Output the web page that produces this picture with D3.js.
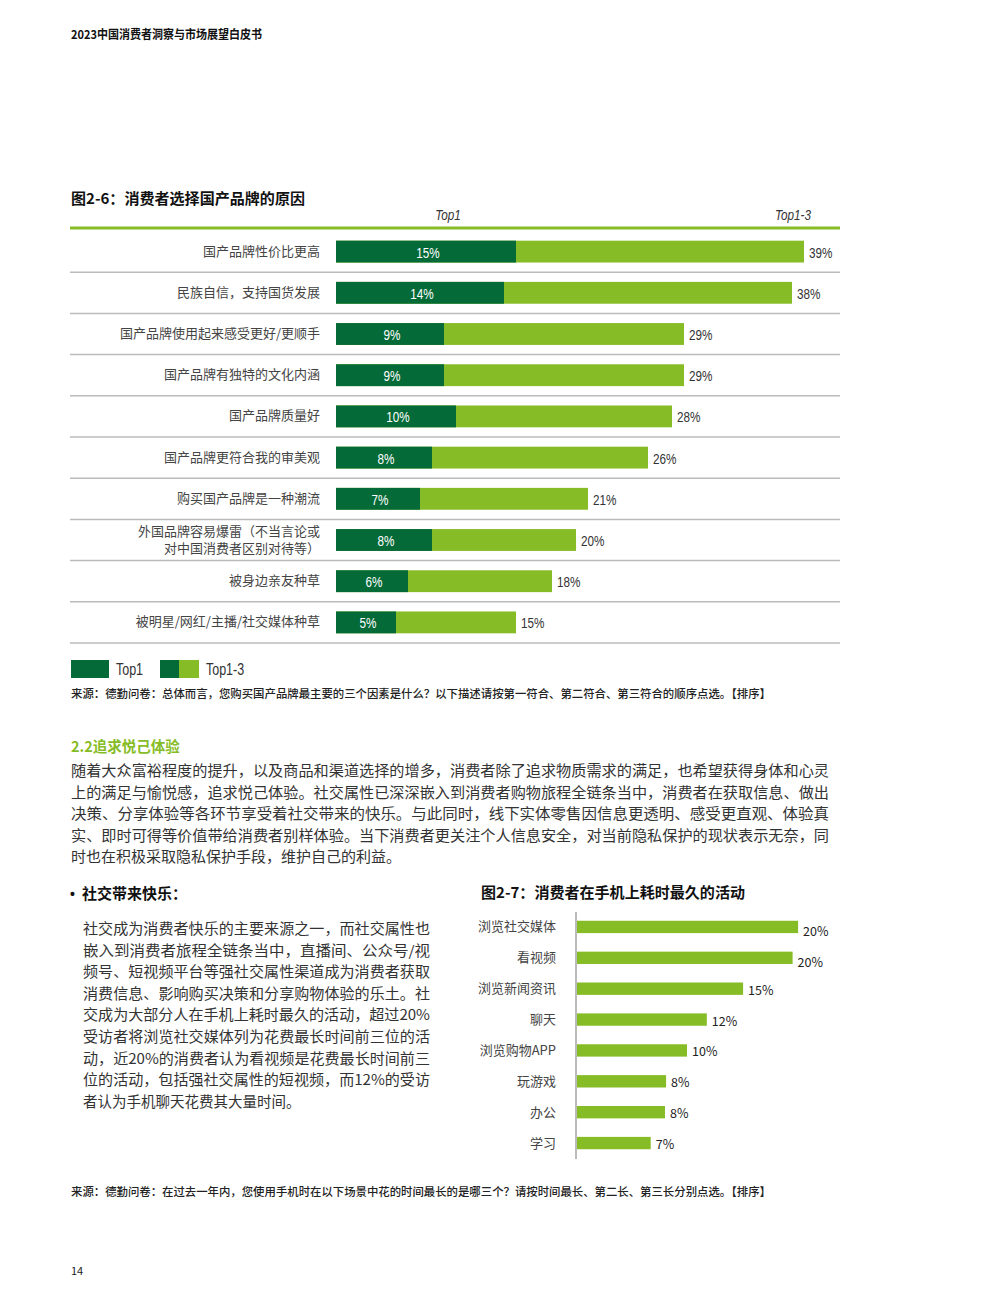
<!DOCTYPE html>
<html>
<head>
<meta charset="utf-8">
<script src="https://cdn.jsdelivr.net/npm/d3@7"></script>
<style>
  body { margin: 0; background: #fff; }
  text { font-family: "Noto Sans CJK SC", "Noto Sans", sans-serif; }
  .num { font-family: "Liberation Sans", Arial, sans-serif; }
</style>
</head>
<body>
<div id="page"></div>
<script>
// 图2-6 data
var reasons = ["国产品牌性价比更高", "民族自信，支持国货发展", "国产品牌使用起来感受更好/更顺手",
  "国产品牌有独特的文化内涵", "国产品牌质量好", "国产品牌更符合我的审美观", "购买国产品牌是一种潮流",
  "外国品牌容易爆雷（不当言论或\n对中国消费者区别对待等）", "被身边亲友种草", "被明星/网红/主播/社交媒体种草"];
var top1 = [15, 14, 9, 9, 10, 8, 7, 8, 6, 5];
var top3 = [39, 38, 29, 29, 28, 26, 21, 20, 18, 15];

// 图2-7 data
var activities = ["浏览社交媒体", "看视频", "浏览新闻资讯", "聊天", "浏览购物APP", "玩游戏", "办公", "学习"];
var activityShare = [20.1, 19.6, 15.1, 11.8, 10.0, 8.1, 8.0, 6.7];

var paragraph = [
  "随着大众富裕程度的提升，以及商品和渠道选择的增多，消费者除了追求物质需求的满足，也希望获得身体和心灵",
  "上的满足与愉悦感，追求悦己体验。社交属性已深深嵌入到消费者购物旅程全链条当中，消费者在获取信息、做出",
  "决策、分享体验等各环节享受着社交带来的快乐。与此同时，线下实体零售因信息更透明、感受更直观、体验真",
  "实、即时可得等价值带给消费者别样体验。当下消费者更关注个人信息安全，对当前隐私保护的现状表示无奈，同",
  "时也在积极采取隐私保护手段，维护自己的利益。"];
var sideText = [
  "社交成为消费者快乐的主要来源之一，而社交属性也",
  "嵌入到消费者旅程全链条当中，直播间、公众号/视",
  "频号、短视频平台等强社交属性渠道成为消费者获取",
  "消费信息、影响购买决策和分享购物体验的乐土。社",
  "交成为大部分人在手机上耗时最久的活动，超过20%",
  "受访者将浏览社交媒体列为花费最长时间前三位的活",
  "动，近20%的消费者认为看视频是花费最长时间前三",
  "位的活动，包括强社交属性的短视频，而12%的受访",
  "者认为手机聊天花费其大量时间。"];

var dark = "#046A38", light = "#86BC25", textCol = "#333";

// squeeze latin labels to look like the condensed face in the original
function narrow(sel, k) {
  sel.each(function() {
    var w = this.getComputedTextLength();
    this.setAttribute("textLength", w * (k || 0.78));
    this.setAttribute("lengthAdjust", "spacingAndGlyphs");
  });
}

var svg = d3.select("#page").append("svg")
  .attr("width", 987).attr("height", 1316);
svg.append("rect").attr("width", 987).attr("height", 1316).attr("fill", "#fff");

// page header
svg.append("text").attr("x", 71).attr("y", 39)
  .attr("font-size", 12).attr("font-weight", "bold").attr("fill", "#111")
  .attr("textLength", 191).attr("lengthAdjust", "spacingAndGlyphs")
  .text("2023中国消费者洞察与市场展望白皮书");

// ---------- chart 1 ----------
svg.append("text").attr("x", 71).attr("y", 204)
  .attr("font-size", 15).attr("font-weight", "bold").attr("fill", "#111")
  .attr("textLength", 234).attr("lengthAdjust", "spacingAndGlyphs")
  .text("图2-6：消费者选择国产品牌的原因");

svg.append("text").attr("class", "num").attr("x", 448).attr("y", 220)
  .attr("text-anchor", "middle").attr("font-style", "italic").attr("font-size", 15)
  .attr("fill", textCol).text("Top1").call(narrow);
svg.append("text").attr("class", "num").attr("x", 793).attr("y", 220)
  .attr("text-anchor", "middle").attr("font-style", "italic").attr("font-size", 15)
  .attr("fill", textCol).text("Top1-3").call(narrow);

var rows1 = reasons.map(function(r, i) { return {name: r, a: top1[i], b: top3[i]}; });

var x1 = d3.scaleLinear().domain([0, 40]).range([336, 816]);
var y1 = d3.scaleBand().domain(reasons).range([231, 643])
  .paddingInner(0.47).paddingOuter(0.235);
var gap = y1.step() * 0.47 / 2;

svg.append("line").attr("x1", 70).attr("x2", 840).attr("y1", 228).attr("y2", 228)
  .attr("stroke", light).attr("stroke-width", 3);

var g1 = svg.append("g");
g1.selectAll("line.sep").data(rows1).enter().append("line")
  .attr("class", "sep")
  .attr("x1", 70).attr("x2", 840)
  .attr("y1", function(d) { return y1(d.name) + y1.bandwidth() + gap; })
  .attr("y2", function(d) { return y1(d.name) + y1.bandwidth() + gap; })
  .attr("stroke", "#bbb").attr("stroke-width", 1.5);

g1.selectAll("rect.b").data(rows1).enter().append("rect")
  .attr("class", "b")
  .attr("x", x1(0)).attr("y", function(d) { return y1(d.name); })
  .attr("width", function(d) { return x1(d.b) - x1(0); })
  .attr("height", y1.bandwidth()).attr("fill", light);

g1.selectAll("rect.a").data(rows1).enter().append("rect")
  .attr("class", "a")
  .attr("x", x1(0)).attr("y", function(d) { return y1(d.name); })
  .attr("width", function(d) { return x1(d.a) - x1(0); })
  .attr("height", y1.bandwidth()).attr("fill", dark);

g1.selectAll("text.in").data(rows1).enter().append("text")
  .attr("class", "num")
  .attr("x", function(d) { return (x1(0) + x1(d.a)) / 2 + 2; })
  .attr("y", function(d) { return y1(d.name) + y1.bandwidth() / 2 + 6; })
  .attr("text-anchor", "middle").attr("font-size", 15).attr("fill", "#fff")
  .text(function(d) { return d.a + "%"; })
  .call(narrow);

g1.selectAll("text.out").data(rows1).enter().append("text")
  .attr("class", "num")
  .attr("x", function(d) { return x1(d.b) + 5; })
  .attr("y", function(d) { return y1(d.name) + y1.bandwidth() / 2 + 6; })
  .attr("font-size", 15).attr("fill", textCol)
  .text(function(d) { return d.b + "%"; })
  .call(narrow);

g1.selectAll("text.cat").data(rows1).enter().append("text")
  .attr("x", 320)
  .attr("y", function(d) {
    var n = d.name.split("\n").length;
    return y1(d.name) + y1.bandwidth() / 2 + 4 - (n - 1) * 8.5;
  })
  .attr("text-anchor", "end").attr("font-size", 13).attr("fill", "#444")
  .each(function(d) {
    var t = d3.select(this);
    d.name.split("\n").forEach(function(s, k) {
      t.append("tspan").attr("x", 320).attr("dy", k ? 17 : 0).text(s);
    });
  });

// legend
svg.append("rect").attr("x", 71).attr("y", 660).attr("width", 38).attr("height", 18).attr("fill", dark);
svg.append("text").attr("class", "num").attr("x", 116).attr("y", 675)
  .attr("font-size", 16).attr("fill", textCol).text("Top1").call(narrow);
svg.append("rect").attr("x", 160).attr("y", 660).attr("width", 19).attr("height", 18).attr("fill", dark);
svg.append("rect").attr("x", 179).attr("y", 660).attr("width", 20).attr("height", 18).attr("fill", light);
svg.append("text").attr("class", "num").attr("x", 206).attr("y", 675)
  .attr("font-size", 16).attr("fill", textCol).text("Top1-3").call(narrow);

svg.append("text").attr("x", 71).attr("y", 698)
  .attr("font-size", 11.5).attr("font-weight", 500).attr("fill", "#222")
  .attr("textLength", 700).attr("lengthAdjust", "spacingAndGlyphs")
  .text("来源：德勤问卷：总体而言，您购买国产品牌最主要的三个因素是什么？以下描述请按第一符合、第二符合、第三符合的顺序点选。【排序】");

// ---------- section text ----------
svg.append("text").attr("x", 71).attr("y", 752)
  .attr("font-size", 14.5).attr("font-weight", "bold").attr("fill", light)
  .text("2.2追求悦己体验");

svg.append("g").selectAll("text").data(paragraph).enter().append("text")
  .attr("x", 71).attr("y", function(d, i) { return 776 + i * 21.6; })
  .attr("font-size", 15).attr("fill", textCol)
  .attr("textLength", function(d, i) { return i < paragraph.length - 1 ? 758 : null; })
  .attr("lengthAdjust", "spacingAndGlyphs")
  .text(function(d) { return d; });

svg.append("text").attr("class", "num").attr("x", 70).attr("y", 899)
  .attr("font-size", 14).attr("font-weight", "bold").attr("fill", "#111")
  .text("•");
svg.append("text").attr("x", 82).attr("y", 899)
  .attr("font-size", 15).attr("font-weight", "bold").attr("fill", "#111")
  .text("社交带来快乐：");

svg.append("g").selectAll("text").data(sideText).enter().append("text")
  .attr("x", 83).attr("y", function(d, i) { return 934 + i * 21.6; })
  .attr("font-size", 14.5).attr("fill", textCol)
  .attr("textLength", function(d, i) { return i < sideText.length - 1 ? 347 : null; })
  .attr("lengthAdjust", "spacingAndGlyphs")
  .text(function(d) { return d; });

// ---------- chart 2 ----------
svg.append("text").attr("x", 481).attr("y", 898)
  .attr("font-size", 15).attr("font-weight", "bold").attr("fill", "#111")
  .attr("textLength", 264).attr("lengthAdjust", "spacingAndGlyphs")
  .text("图2-7：消费者在手机上耗时最久的活动");

var rows2 = activities.map(function(a, i) { return {name: a, v: activityShare[i]}; });
var x2 = d3.scaleLinear().domain([0, 20]).range([577, 797]);
var y2 = d3.scaleBand().domain(activities).range([911.5, 1158.5])
  .paddingInner(0.6).paddingOuter(0.3);

var g2 = svg.append("g");
g2.selectAll("rect").data(rows2).enter().append("rect")
  .attr("x", x2(0)).attr("y", function(d) { return y2(d.name); })
  .attr("width", function(d) { return x2(d.v) - x2(0); })
  .attr("height", y2.bandwidth()).attr("fill", light);

g2.append("line").attr("x1", 576).attr("x2", 576).attr("y1", 912).attr("y2", 1159)
  .attr("stroke", "#bbb").attr("stroke-width", 2);

g2.selectAll("text.cat").data(rows2).enter().append("text")
  .attr("x", 556).attr("y", function(d) { return y2(d.name) + y2.bandwidth() / 2 + 4.5; })
  .attr("text-anchor", "end").attr("font-size", 13).attr("fill", "#444")
  .text(function(d) { return d.name; });

g2.selectAll("text.val").data(rows2).enter().append("text")
  .attr("x", function(d) { return x2(d.v) + 5; })
  .attr("y", function(d, i) { return y2(d.name) + y2.bandwidth() / 2 + (i < 2 ? 9 : 6); })
  .attr("font-family", "DejaVu Sans, Verdana, sans-serif")
  .attr("font-size", 12.5).attr("fill", "#222")
  .text(function(d) { return Math.round(d.v) + "%"; });

svg.append("text").attr("x", 71).attr("y", 1196)
  .attr("font-size", 11.5).attr("font-weight", 500).attr("fill", "#222")
  .attr("textLength", 700).attr("lengthAdjust", "spacingAndGlyphs")
  .text("来源：德勤问卷：在过去一年内，您使用手机时在以下场景中花的时间最长的是哪三个？请按时间最长、第二长、第三长分别点选。【排序】");

svg.append("text").attr("x", 71).attr("y", 1275)
  .attr("font-size", 11).attr("fill", "#222").text("14");
</script>
</body>
</html>
